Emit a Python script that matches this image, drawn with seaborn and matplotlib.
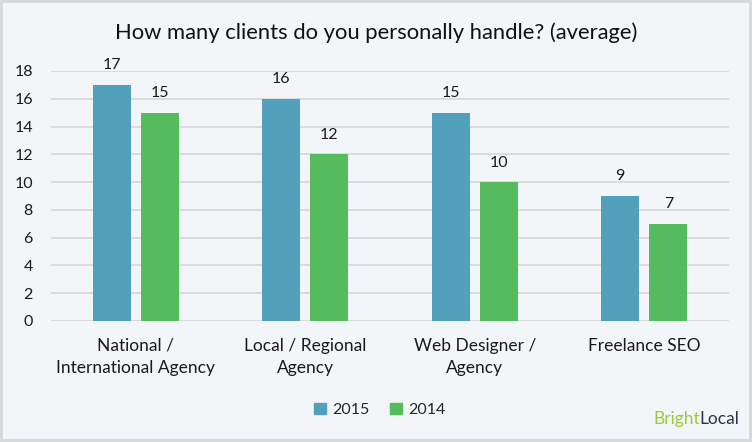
import numpy as np
import pandas as pd
import matplotlib.pyplot as plt
import matplotlib.patches as mpatches
import seaborn as sns

# chart data
categories = ["National /\nInternational Agency", "Local / Regional\nAgency",
              "Web Designer /\nAgency", "Freelance SEO"]
years = ["2015", "2014"]
values_2015 = [17, 16, 15, 9]
values_2014 = [15, 12, 10, 7]
y_ticks = [0, 2, 4, 6, 8, 10, 12, 14, 16, 18]

bg = "#f2f6f9"
colors = {"2015": "#53a0bc", "2014": "#56bb5f"}

df = pd.DataFrame({
    "category": categories * 2,
    "year": ["2015"] * len(categories) + ["2014"] * len(categories),
    "clients": values_2015 + values_2014,
})

sns.set_theme(style="white")
plt.rcParams["font.family"] = ["Lato", "DejaVu Sans"]

fig = plt.figure(figsize=(7.52, 4.42), dpi=100, facecolor=bg,
                 edgecolor="#d9d9d9", linewidth=3)
ax = fig.add_axes([51 / 752, 1 - 321 / 442, (729 - 51) / 752, (321 - 71) / 442])
ax.set_facecolor(bg)

sns.barplot(data=df, x="category", y="clients", hue="year", hue_order=years,
            palette=colors, width=0.568, gap=0.21, saturation=1,
            linewidth=0, legend=False, ax=ax)

# value labels
for cont in ax.containers:
    ax.bar_label(cont, fmt="%d", padding=9, fontsize=11.5, color="#1a1a1a")

ax.set_ylim(0, 18)
ax.set_xlim(-0.5, 3.5)
ax.set_yticks(y_ticks)
ax.yaxis.grid(True, color="#d9d9d9", linewidth=1.3)
ax.set_axisbelow(True)
for s in ax.spines.values():
    s.set_visible(False)
ax.tick_params(axis="y", length=0, pad=13, labelsize=11.5, labelcolor="#1a1a1a")
ax.tick_params(axis="x", length=0, pad=12, labelsize=12.5, labelcolor="#1a1a1a")
for lbl in ax.get_xticklabels():
    lbl.set_linespacing(1.45)
ax.set_xlabel("")
ax.set_ylabel("")

fig.text(0.5, 1 - 33 / 442, "How many clients do you personally handle? (average)",
         ha="center", va="center", fontsize=15.8, color="#111111")

handles = [mpatches.Patch(color=colors[y], label=y) for y in years]
fig.legend(handles=handles, loc="center", bbox_to_anchor=(380 / 752, 1 - 410 / 442),
           ncol=2, frameon=False, fontsize=11.5, handlelength=0.75, handleheight=0.75,
           handletextpad=0.4, columnspacing=1.3)

# logo text
t_bright = fig.text(653 / 752, 1 - 424 / 442, "Bright", ha="left", va="baseline",
                    fontsize=12.5, color="#9cc83c")
ax.annotate("Local", xy=(1, 0), xycoords=t_bright, ha="left", va="bottom",
            fontsize=12.5, color="#2b3547", annotation_clip=False)

fig.savefig("out.png", dpi=100, facecolor=bg, edgecolor="#d9d9d9")
